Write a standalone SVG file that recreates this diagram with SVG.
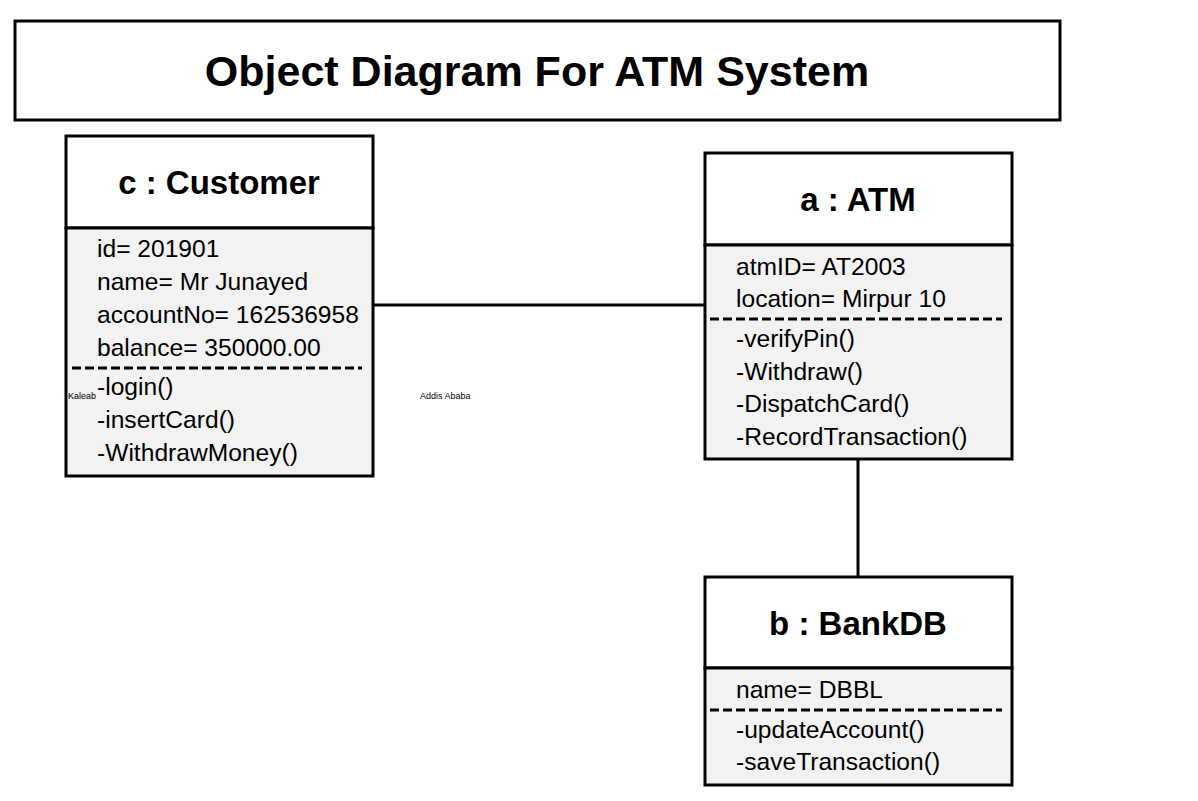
<svg xmlns="http://www.w3.org/2000/svg" width="1198" height="801" viewBox="0 0 1198 801">
<style>
.box{fill:#ffffff;stroke:#000;stroke-width:3}
.body{fill:#f2f2f2;stroke:#000;stroke-width:3}
.dash{stroke:#000;stroke-width:3;stroke-dasharray:9 4;fill:none}
.title{font-family:"Liberation Sans",Arial,sans-serif;font-weight:bold;font-size:33px;text-anchor:middle;fill:#000}
.t{font-family:"Liberation Sans",Arial,sans-serif;font-size:24.6px;fill:#000}
.small{font-family:"Liberation Sans",Arial,sans-serif;font-size:9px;fill:#000}
.conn{stroke:#000;stroke-width:3;fill:none}
</style>
<rect width="1198" height="801" fill="#ffffff"/>
<g id="title">
<rect class="box" x="15" y="21" width="1045" height="99"/>
<text x="537" y="86" font-family="Liberation Sans,Arial,sans-serif" font-weight="bold" font-size="43" text-anchor="middle">Object Diagram For ATM System</text>
</g>
<g id="connectors">
<line class="conn" x1="373" y1="305" x2="705" y2="305"/>
<line class="conn" x1="858" y1="459" x2="858" y2="577"/>
</g>
<g id="customer">
<rect class="box" x="66" y="136" width="307" height="92"/>
<rect class="body" x="66" y="228" width="307" height="248"/>
<text class="title" x="219" y="194">c : Customer</text>
<text class="t" x="97" y="257">id= 201901</text>
<text class="t" x="97" y="290">name= Mr Junayed</text>
<text class="t" x="97" y="323">accountNo= 162536958</text>
<text class="t" x="97" y="356">balance= 350000.00</text>
<line class="dash" x1="72" y1="368" x2="362" y2="368"/>
<text class="t" x="97" y="395">-login()</text>
<text class="t" x="97" y="428">-insertCard()</text>
<text class="t" x="97" y="461">-WithdrawMoney()</text>
</g>
<g id="atm">
<rect class="box" x="705" y="153" width="307" height="92"/>
<rect class="body" x="705" y="245" width="307" height="214"/>
<text class="title" x="858" y="211">a : ATM</text>
<text class="t" x="736" y="275">atmID= AT2003</text>
<text class="t" x="736" y="307">location= Mirpur 10</text>
<line class="dash" x1="710" y1="319" x2="1002" y2="319"/>
<text class="t" x="736" y="347">-verifyPin()</text>
<text class="t" x="736" y="380">-Withdraw()</text>
<text class="t" x="736" y="412">-DispatchCard()</text>
<text class="t" x="736" y="445">-RecordTransaction()</text>
</g>
<g id="bankdb">
<rect class="box" x="705" y="577" width="307" height="91"/>
<rect class="body" x="705" y="668" width="307" height="117"/>
<text class="title" x="858" y="635">b : BankDB</text>
<text class="t" x="736" y="698">name= DBBL</text>
<line class="dash" x1="710" y1="710" x2="1002" y2="710"/>
<text class="t" x="736" y="738">-updateAccount()</text>
<text class="t" x="736" y="770">-saveTransaction()</text>
</g>
<text class="small" x="68" y="399">Kaleab</text>
<text class="small" x="420" y="399">Addis Ababa</text>
</svg>
